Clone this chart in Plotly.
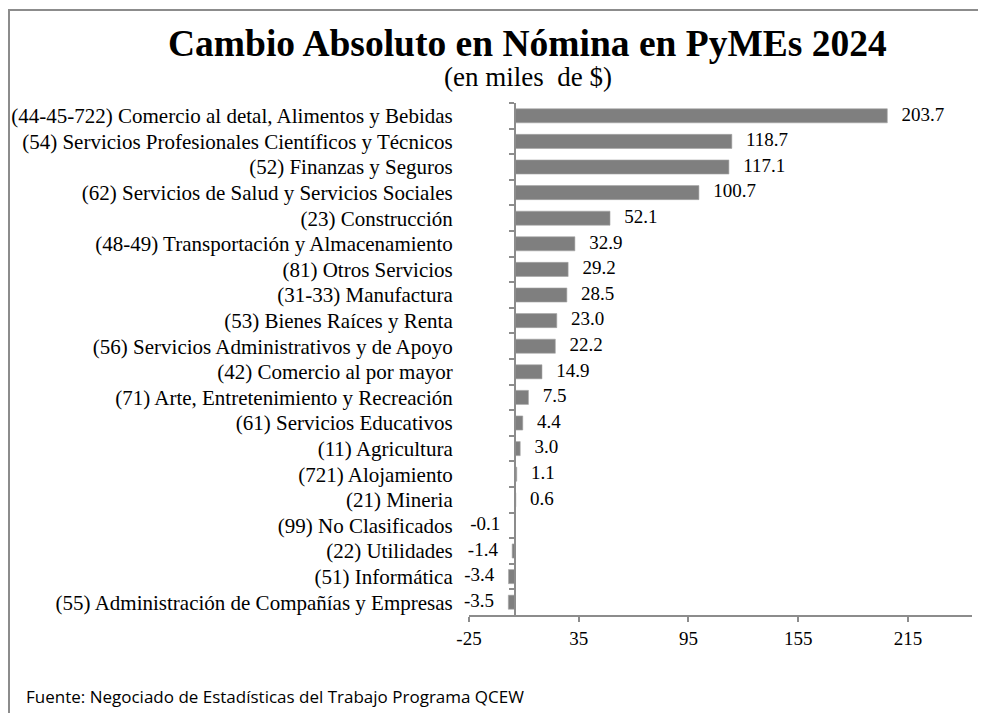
import plotly.graph_objects as go

categories = [
    "(44-45-722) Comercio al detal, Alimentos y Bebidas",
    "(54) Servicios Profesionales Científicos y Técnicos",
    "(52) Finanzas y Seguros",
    "(62) Servicios de Salud y Servicios Sociales",
    "(23) Construcción",
    "(48-49) Transportación y Almacenamiento",
    "(81) Otros Servicios",
    "(31-33) Manufactura",
    "(53) Bienes Raíces y Renta",
    "(56) Servicios Administrativos y de Apoyo",
    "(42) Comercio al por mayor",
    "(71) Arte, Entretenimiento y Recreación",
    "(61) Servicios Educativos",
    "(11) Agricultura",
    "(721) Alojamiento",
    "(21) Mineria",
    "(99) No Clasificados",
    "(22) Utilidades",
    "(51) Informática",
    "(55) Administración de Compañías y Empresas",
]
values = [203.7, 118.7, 117.1, 100.7, 52.1, 32.9, 29.2, 28.5, 23.0, 22.2,
          14.9, 7.5, 4.4, 3.0, 1.1, 0.6, -0.1, -1.4, -3.4, -3.5]
x_ticks = [-25, 35, 95, 155, 215]
x_range = [-25, 250]

title = "Cambio Absoluto en Nómina en PyMEs 2024"
subtitle = "(en miles  de $)"
source = "Fuente: Negociado de Estadísticas del Trabajo Programa QCEW"

SERIF = "Liberation Serif, Times New Roman, serif"
GRAY_AXIS = "#8c8c8c"

pad = "\u00a0\u00a0\u00a0"
labels = [(pad + f"{v:.1f}") if v >= 0 else (f"{v:.1f}" + pad) for v in values]
positions = ["middle right" if v >= 0 else "middle left" for v in values]

fig = go.Figure()
fig.add_trace(go.Bar(
    x=values, y=categories, orientation="h",
    marker=dict(color="#7f7f7f", line=dict(color="#a6a6a6", width=0.6)),
    width=0.55, hoverinfo="x+y",
))
fig.add_trace(go.Scatter(
    x=values, y=categories, mode="text", text=labels,
    textposition=positions, cliponaxis=False,
    textfont=dict(family=SERIF, size=19, color="#000000"),
    hoverinfo="skip",
))

# page body has an 8px margin, so the figure is laid out 8px in from the page corner
OFF = 8
W, H = 986 - OFF, 713 - OFF
L, R, T, B = 469 - OFF, 986 - 972, 103 - OFF, 713 - 615
pw, ph = W - L - R, H - T - B

def px_x(px):
    return (px - OFF - L) / pw

def px_y(py):
    return (H - B - (py - OFF)) / ph

fig.update_layout(
    width=W, height=H,
    margin=dict(l=L, r=R, t=T, b=B, autoexpand=False),
    paper_bgcolor="white", plot_bgcolor="white",
    showlegend=False,
    xaxis=dict(
        range=x_range, tickvals=x_ticks, ticktext=[str(t) for t in x_ticks],
        showgrid=False, zeroline=False,
        showline=True, linecolor=GRAY_AXIS, linewidth=1.5,
        ticks="outside", ticklen=5, tickcolor=GRAY_AXIS, tickwidth=1.5,
        tickfont=dict(family=SERIF, size=19, color="#000000"),
        fixedrange=True, automargin=False,
    ),
    yaxis=dict(
        type="category", range=[len(categories) - 0.5, -0.5], autorange=False,
        anchor="free", position=(0 - x_range[0]) / (x_range[1] - x_range[0]),
        showgrid=False, zeroline=False,
        showline=True, linecolor=GRAY_AXIS, linewidth=1.5,
        ticks="outside", ticklen=5, tickcolor=GRAY_AXIS, tickwidth=1.5,
        tickson="boundaries",
        ticklabelstandoff=57,
        tickfont=dict(family=SERIF, size=21, color="#000000"),
        fixedrange=True, automargin=False,
    ),
    annotations=[
        dict(text="<b>" + title + "</b>", xref="paper", yref="paper",
             x=px_x(527), y=px_y(43), xanchor="center", yanchor="middle",
             showarrow=False, font=dict(family=SERIF, size=37.5, color="#000000")),
        dict(text=subtitle, xref="paper", yref="paper",
             x=px_x(528), y=px_y(77), xanchor="center", yanchor="middle",
             showarrow=False, font=dict(family=SERIF, size=27, color="#000000")),
        dict(text=source, xref="paper", yref="paper",
             x=px_x(24), y=px_y(696), xanchor="left", yanchor="middle",
             showarrow=False, font=dict(family="Open Sans, sans-serif", size=17, color="#000000")),
    ],
    shapes=[
        dict(type="rect", xref="paper", yref="paper",
             x0=px_x(OFF + 1), x1=px_x(1010), y0=px_y(740), y1=px_y(10),
             line=dict(color="#8c8c8c", width=2), fillcolor="rgba(0,0,0,0)",
             layer="below"),
    ],
)

fig.write_html("out.html")
